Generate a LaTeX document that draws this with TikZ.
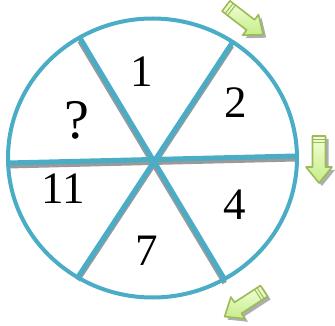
\documentclass[tikz,border=0pt]{standalone}
\usepackage{fontspec}
\setmainfont{Liberation Serif}
\definecolor{ringblue}{HTML}{4BACC6}
\definecolor{shadowgrey}{HTML}{9A9A9A}
\definecolor{arrowline}{HTML}{9BBB59}
\definecolor{arrowlight}{HTML}{F2FFD8}
\definecolor{arrowdark}{HTML}{C6EC88}
\tikzset{
  ring/.style={draw=ringblue, line width=4pt},
  spoke/.style={draw=ringblue, line width=5pt},
  spokeshadow/.style={draw=shadowgrey, line width=5pt},
  numlabel/.style={font=\fontsize{45}{45}\selectfont, inner sep=0pt},
  qlabel/.style={font=\fontsize{56}{56}\selectfont, inner sep=0pt},
  greenarrow/.style={draw=arrowline, line width=1.6pt, line join=round, top color=arrowlight, bottom color=arrowdark},
  arrowshadow/.style={fill=shadowgrey!80},
}
\newcommand{\blockarrowpath}{(0,-6.5) -- (31,-6.5) -- (31,-13) -- (47,0) -- (31,13) -- (31,6.5) -- (0,6.5) -- cycle}
\newcommand{\greenblockarrow}[3]{%
  \begin{scope}[shift={(#1+3,#2+3)}, rotate=#3]
    \path[arrowshadow] \blockarrowpath;
  \end{scope}
  \begin{scope}[shift={(#1,#2)}, rotate=#3]
    \path[greenarrow] \blockarrowpath;
    \draw[arrowline, line width=1pt] (4,-6.5) -- (4,6.5) (7,-6.5) -- (7,6.5);
  \end{scope}}
\begin{document}
\begin{tikzpicture}[x=1pt,y=-1pt]
\useasboundingbox (0,0) rectangle (335,326);
\coordinate (c) at (153,159);
\coordinate (tl) at (80,38);
\coordinate (br) at (225,280);
\coordinate (tr) at (232,43);
\coordinate (bl) at (78,277);
\coordinate (l) at (8,163);
\coordinate (r) at (296,156);
% spoke shadows
\foreach \a/\b in {tl/br, tr/bl, l/r}{
  \draw[spokeshadow] ([shift={(-0.3,3)}]\a) -- ([shift={(-0.3,3)}]\b);
}
% spokes
\foreach \a/\b in {tl/br, tr/bl, l/r}{
  \draw[spoke] (\a) -- (\b);
}
% ring
\draw[ring] (152.5,158) ellipse [x radius=144.5, y radius=139.5];
% labels
\node[numlabel] (n1) at (142,72) {1};
\node[numlabel] (n2) at (236,103) {2};
\node[qlabel] (nq) at (77,120) {?};
\node[numlabel] (n11) at (63,189) {11};
\node[numlabel] (n4) at (235,205) {4};
\node[numlabel] (n7) at (147,251) {7};
% arrows
\greenblockarrow{226}{6}{-37.6}
\greenblockarrow{319}{136}{-90}
\greenblockarrow{264}{291}{-147}
\end{tikzpicture}
\end{document}
